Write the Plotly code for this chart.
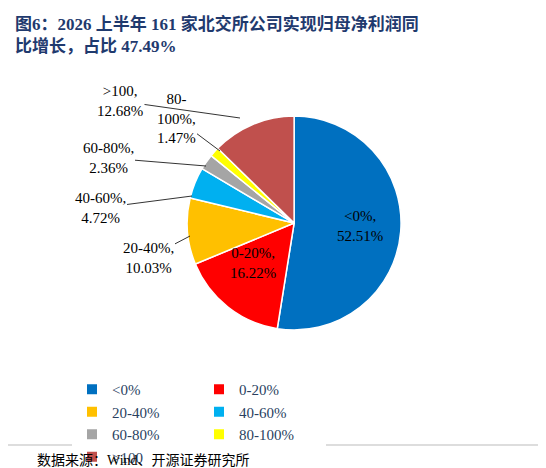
import plotly.graph_objects as go

labels = ["<0%", "0-20%", "20-40%", "40-60%", "60-80%", "80-100%", ">100"]
values = [52.51, 16.22, 10.03, 4.72, 2.36, 1.47, 12.68]
colors = ["#0070C0", "#FF0000", "#FFC000", "#00B0F0", "#A5A5A5", "#FFFF00", "#C0504D"]

W, H = 546, 468
FONT = "Liberation Serif, Times New Roman, Noto Sans CJK SC"

def px(x, y):
    return x / W, 1 - y / H

fig = go.Figure(go.Pie(
    labels=labels, values=values, sort=False, direction="clockwise", rotation=0,
    marker=dict(colors=colors, line=dict(color="white", width=1.5)),
    textinfo="none", hoverinfo="label+percent",
    domain=dict(x=[0.328, 0.720], y=[0.312, 0.769]),
))

# 标签位置 (文字中心, 引线终点)
label_pos = [
    ((352, 218), None),
    ((245, 255), None),
    ((140, 250), (182, 228)),
    ((92, 200), (184, 188)),
    ((100, 150), (198, 158)),
    ((168, 110), (212, 143)),
    ((112, 93), (232, 110)),
]
texts = ["<0%,<br>52.51%", "0-20%,<br>16.22%", "20-40%,<br>10.03%", "40-60%,<br>4.72%",
         "60-80%,<br>2.36%", "80-<br>100%,<br>1.47%", ">100,<br>12.68%"]

annotations = []
for t, (pos, tip) in zip(texts, label_pos):
    x, y = px(*pos)
    a = dict(text=t, x=x, y=y, xref="paper", yref="paper", showarrow=False,
             font=dict(family=FONT, size=15, color="black"), align="center")
    if tip:
        tx, ty = px(*tip)
        a.update(showarrow=True, x=tx, y=ty, ax=pos[0] - tip[0], ay=pos[1] - tip[1],
                 arrowhead=0, arrowwidth=0.8, arrowcolor="black", standoff=0)
    annotations.append(a)

annotations.append(dict(text="<b>图6：2026 上半年 161 家北交所公司实现归母净利润同<br>比增长，占比 47.49%</b>",
                        x=0.01, y=1 - 4 / H, xref="paper", yref="paper", xanchor="left", yanchor="top",
                        showarrow=False, align="left",
                        font=dict(family=FONT, size=17, color="#1F3A6E")))
annotations.append(dict(text="数据来源：Wind、开源证券研究所", x=0.05, y=1 - 452 / H,
                        xref="paper", yref="paper", xanchor="left", yanchor="middle", showarrow=False,
                        font=dict(family=FONT, size=14, color="black")))

fig.update_layout(
    width=W, height=H, margin=dict(l=0, r=0, t=0, b=0),
    paper_bgcolor="white", plot_bgcolor="white",
    annotations=annotations,
    shapes=[dict(type="line", xref="paper", yref="paper", x0=0.0, x1=1.0,
                 y0=1 - 437 / H, y1=1 - 437 / H, line=dict(color="#BBBBBB", width=1))],
    legend=dict(orientation="h", x=0.2, y=1 - 365 / H, xanchor="left", yanchor="top",
                entrywidth=82, font=dict(family=FONT, size=15), itemsizing="constant"),
)

fig.write_html("out.html")
